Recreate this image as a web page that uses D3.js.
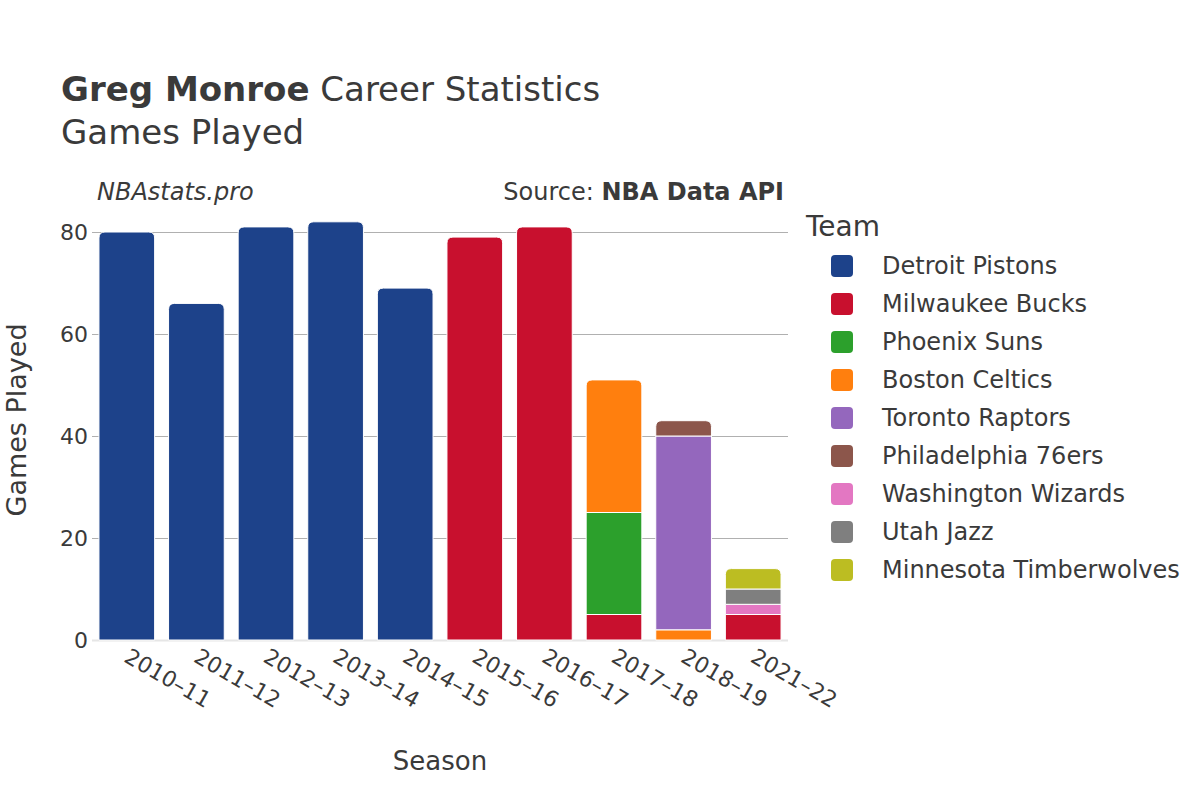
<!DOCTYPE html>
<html><head><meta charset="utf-8">
<script src="https://cdn.jsdelivr.net/npm/d3@7"></script>
<style>body{margin:0;background:#fff}svg{font-family:"DejaVu Sans",sans-serif}</style>
</head><body><svg id="c" width="1200" height="800"></svg>
<script>
const seasons = ["2010–11","2011–12","2012–13","2013–14","2014–15","2015–16","2016–17","2017–18","2018–19","2021–22"];
const teams = ["Detroit Pistons","Milwaukee Bucks","Phoenix Suns","Boston Celtics","Toronto Raptors","Philadelphia 76ers","Washington Wizards","Utah Jazz","Minnesota Timberwolves"];
const teamColors = ["#1d428a","#c8102e","#2ca02c","#ff7f0e","#9467bd","#8c564b","#e377c2","#7f7f7f","#bcbd22"];
const detroit    = [80,66,81,82,69,0,0,0,0,0];
const milwaukee  = [0,0,0,0,0,79,81,5,0,5];
const phoenix    = [0,0,0,0,0,0,0,20,0,0];
const boston     = [0,0,0,0,0,0,0,26,2,0];
const toronto    = [0,0,0,0,0,0,0,0,38,0];
const philly     = [0,0,0,0,0,0,0,0,3,0];
const washington = [0,0,0,0,0,0,0,0,0,2];
const utah       = [0,0,0,0,0,0,0,0,0,3];
const minnesota  = [0,0,0,0,0,0,0,0,0,4];
const seriesValues = [detroit,milwaukee,phoenix,boston,toronto,philly,washington,utah,minnesota];
const yTicks = [0,20,40,60,80];

const svg = d3.select("#c");
const txt = "#3a3a3a";
const x = d3.scaleBand().domain(seasons).range([92,788]).paddingInner(0.2).paddingOuter(0.1);
const y = d3.scaleLinear().domain([0,80]).range([640,232]);

// gridlines
svg.append("g").selectAll("line").data(yTicks).join("line")
  .attr("x1",92).attr("x2",788).attr("y1",d=>Math.round(y(d))+0.5).attr("y2",d=>Math.round(y(d))+0.5)
  .attr("stroke",d=>d===0?"#e6e6e6":"#b0b0b0").attr("stroke-width",d=>d===0?2:1);

// y ticks
svg.append("g").selectAll("text").data(yTicks).join("text")
  .attr("x",88).attr("y",d=>y(d)).attr("dy","0.35em").attr("text-anchor","end")
  .attr("font-size",22).attr("fill",txt).text(d=>d);

// stacking
const rows = seasons.map((s,i)=>{const r={season:s}; teams.forEach((t,j)=>r[t]=seriesValues[j][i]); return r;});
const stack = d3.stack().keys(teams)(rows);
const topIdx = seasons.map((s,i)=>{let k=-1; teams.forEach((t,j)=>{if(seriesValues[j][i]>0)k=j;}); return k;});
const r = 6;
function segPath(x0,w,yTop,yBot,round){
  if(!round) return `M${x0},${yBot}V${yTop}H${x0+w}V${yBot}Z`;
  return `M${x0},${yBot}V${yTop+r}Q${x0},${yTop} ${x0+r},${yTop}H${x0+w-r}Q${x0+w},${yTop} ${x0+w},${yTop+r}V${yBot}Z`;
}
stack.forEach((layer,j)=>{
  svg.append("g").selectAll("path").data(layer.map((d,i)=>({d,i})).filter(o=>o.d[1]-o.d[0]>0)).join("path")
    .attr("d",o=>segPath(x(seasons[o.i]),x.bandwidth(),y(o.d[1]),y(o.d[0]),topIdx[o.i]===j))
    .attr("fill",teamColors[j]).attr("stroke","#fff").attr("stroke-width",1);
});

// x tick labels
svg.append("g").selectAll("text").data(seasons).join("text")
  .attr("transform",d=>`translate(${x(d)+x.bandwidth()/2-4},${661}) rotate(30)`)
  .attr("font-size",22).attr("fill",txt).attr("text-anchor","start").text(d=>d);

// axis titles
svg.append("text").attr("x",440).attr("y",770).attr("text-anchor","middle").attr("font-size",26).attr("fill",txt).text("Season");
svg.append("text").attr("transform","translate(26,420) rotate(-90)").attr("text-anchor","middle").attr("font-size",27).attr("fill",txt).text("Games Played");

// titles
const t1 = svg.append("text").attr("x",61).attr("y",101).attr("font-size",34).attr("fill",txt);
t1.append("tspan").attr("font-weight","bold").text("Greg Monroe");
t1.append("tspan").text(" Career Statistics");
svg.append("text").attr("x",61).attr("y",144).attr("font-size",34).attr("fill",txt).text("Games Played");
svg.append("text").attr("x",97).attr("y",200).attr("font-size",24).attr("font-style","italic").attr("fill",txt).text("NBAstats.pro");
const s = svg.append("text").attr("x",784).attr("y",200).attr("text-anchor","end").attr("font-size",24).attr("fill",txt);
s.append("tspan").text("Source: ");
s.append("tspan").attr("font-weight","bold").text("NBA Data API");

// legend
svg.append("text").attr("x",806).attr("y",236).attr("font-size",28).attr("fill",txt).text("Team");
const lg = svg.append("g").selectAll("g").data(teams).join("g").attr("transform",(d,i)=>`translate(0,${266+i*38})`);
lg.append("rect").attr("x",831).attr("y",-11).attr("width",22).attr("height",22).attr("rx",4).attr("fill",(d,i)=>teamColors[i]);
lg.append("text").attr("x",882).attr("dy","0.35em").attr("font-size",24).attr("fill",txt).text(d=>d);
</script></body></html>
